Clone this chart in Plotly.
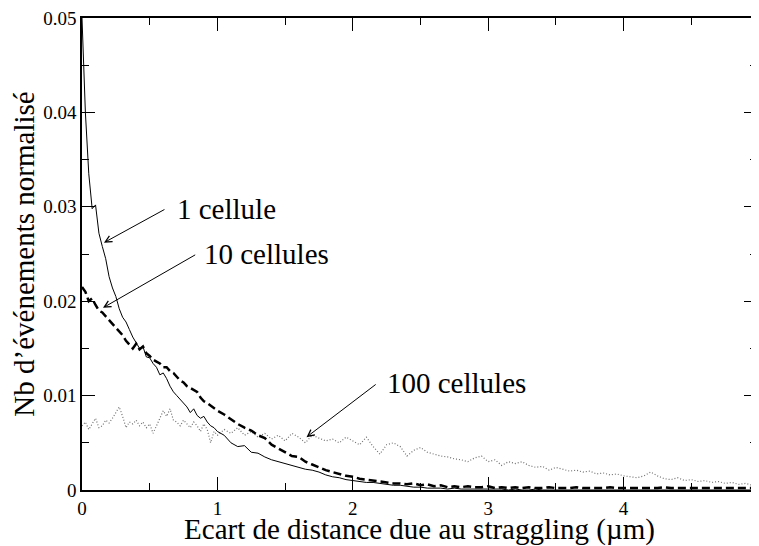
## Straggling distance distribution for 1, 10 and 100 cells

import numpy as np
import plotly.graph_objects as go

# Bin centres (um): fine bins up to 1, then 0.05 steps
x_bins = np.round(np.concatenate([np.arange(0, 1.0001, 0.025), np.arange(1.05, 4.96, 0.05)]), 3)

# Normalised number of events
y_1_cell = [
    0.0500, 0.0400, 0.0335, 0.0298, 0.0302, 0.0272, 0.0258, 0.0245, 0.0226, 0.0214,
    0.0205, 0.0192, 0.0183, 0.0178, 0.0170, 0.0162, 0.0156, 0.0150, 0.0152, 0.0141,
    0.0140, 0.0134, 0.0130, 0.0122, 0.0124, 0.0118, 0.0110, 0.0104, 0.0100, 0.0096,
    0.0092, 0.0088, 0.0082, 0.0086, 0.0079, 0.0076, 0.0078, 0.0072, 0.0068, 0.0066,
    0.0062,
    0.0058, 0.0050, 0.0046, 0.0047, 0.0040, 0.0039, 0.0035, 0.0032, 0.0030, 0.0028,
    0.0026, 0.0024, 0.0022, 0.0021, 0.0019, 0.0016, 0.0014, 0.0013, 0.0011, 0.0010,
    0.0009, 0.0008, 0.0008, 0.0007, 0.0006, 0.0005, 0.0005, 0.0004, 0.0003, 0.0003,
    0.0002, 0.0002, 0.0002, 0.0001, 0.0002, 0.0001, 0.0001, 0.0001, 0.0001, 0.0001,
    0.0001, 0.0001, 0.0000, 0.0001, 0.0000, 0.0000, 0.0001, 0.0000, 0.0000, 0.0000,
    0.0000, 0.0000, 0.0000, 0.0000, 0.0000, 0.0000, 0.0000, 0.0000, 0.0000, 0.0000,
    0.0000, 0.0000, 0.0000, 0.0000, 0.0000, 0.0000, 0.0000, 0.0000, 0.0000, 0.0000,
    0.0000, 0.0000, 0.0000, 0.0000, 0.0000, 0.0000, 0.0000, 0.0000, 0.0000,
]
y_10_cells = [
    0.0215, 0.0210, 0.0200, 0.0203, 0.0196, 0.0190, 0.0188, 0.0184, 0.0180, 0.0176,
    0.0172, 0.0168, 0.0164, 0.0158, 0.0154, 0.0150, 0.0155, 0.0149, 0.0152, 0.0145,
    0.0142, 0.0138, 0.0136, 0.0134, 0.0130, 0.0130, 0.0126, 0.0124, 0.0120, 0.0116,
    0.0114, 0.0110, 0.0108, 0.0106, 0.0104, 0.0098, 0.0094, 0.0092, 0.0089, 0.0086,
    0.0084,
    0.0080, 0.0075, 0.0070, 0.0066, 0.0063, 0.0058, 0.0055, 0.0048, 0.0044, 0.0040,
    0.0036, 0.0035, 0.0030, 0.0027, 0.0024, 0.0021, 0.0019, 0.0017, 0.0015, 0.0014,
    0.0012, 0.0011, 0.0010, 0.0009, 0.0008, 0.0007, 0.0007, 0.0006, 0.0007, 0.0005,
    0.0006, 0.0004, 0.0005, 0.0003, 0.0004, 0.0003, 0.0004, 0.0003, 0.0003, 0.0004,
    0.0002, 0.0003, 0.0002, 0.0003, 0.0002, 0.0003, 0.0002, 0.0002, 0.0003, 0.0002,
    0.0002, 0.0002, 0.0003, 0.0002, 0.0002, 0.0002, 0.0002, 0.0003, 0.0002, 0.0002,
    0.0002, 0.0002, 0.0002, 0.0002, 0.0002, 0.0003, 0.0002, 0.0002, 0.0002, 0.0002,
    0.0002, 0.0002, 0.0002, 0.0002, 0.0002, 0.0002, 0.0002, 0.0002, 0.0002,
]
y_100_cells = [
    0.0068, 0.0072, 0.0064, 0.0070, 0.0076, 0.0066, 0.0068, 0.0074, 0.0071, 0.0076,
    0.0082, 0.0088, 0.0078, 0.0066, 0.0072, 0.0070, 0.0074, 0.0068, 0.0072, 0.0066,
    0.0070, 0.0060, 0.0068, 0.0076, 0.0084, 0.0078, 0.0086, 0.0074, 0.0072, 0.0068,
    0.0074, 0.0070, 0.0066, 0.0072, 0.0068, 0.0062, 0.0070, 0.0064, 0.0050, 0.0062,
    0.0058,
    0.0064, 0.0060, 0.0066, 0.0058, 0.0062, 0.0056, 0.0060, 0.0054, 0.0058, 0.0052,
    0.0060, 0.0056, 0.0050, 0.0058, 0.0055, 0.0052, 0.0054, 0.0050, 0.0056, 0.0052,
    0.0048, 0.0056, 0.0046, 0.0038, 0.0048, 0.0050, 0.0046, 0.0036, 0.0042, 0.0045,
    0.0040, 0.0038, 0.0036, 0.0035, 0.0033, 0.0032, 0.0030, 0.0034, 0.0036, 0.0030,
    0.0032, 0.0026, 0.0030, 0.0028, 0.0030, 0.0026, 0.0024, 0.0025, 0.0021, 0.0024,
    0.0022, 0.0020, 0.0021, 0.0019, 0.0020, 0.0017, 0.0018, 0.0016, 0.0017, 0.0015,
    0.0014, 0.0013, 0.0015, 0.0019, 0.0015, 0.0012, 0.0011, 0.0013, 0.0010, 0.0011,
    0.0009, 0.0010, 0.0008, 0.0009, 0.0007, 0.0008, 0.0006, 0.0007, 0.0005,
]

serif = "Liberation Serif, Times New Roman, serif"

fig = go.Figure()
fig.add_trace(go.Scatter(x=x_bins, y=y_100_cells, mode="lines", name="100 cellules",
                         line=dict(color="#707070", width=1.2, dash="1px,2px")))
fig.add_trace(go.Scatter(x=x_bins, y=y_10_cells, mode="lines", name="10 cellules",
                         line=dict(color="black", width=2.5, dash="8px,4px")))
fig.add_trace(go.Scatter(x=x_bins, y=y_1_cell, mode="lines", name="1 cellule",
                         line=dict(color="black", width=1)))

# Labels with arrows
labels = [
    ("1 cellule", 0.685, 0.0298, 0.62, 0.0298, 0.162, 0.0262),
    ("10 cellules", 0.884, 0.0250, 0.847, 0.0250, 0.155, 0.0193),
    ("100 cellules", 2.24, 0.0113, 2.18, 0.0113, 1.658, 0.0056),
]
for text, tx, ty, ax, ay, hx, hy in labels:
    fig.add_annotation(x=tx, y=ty, text=text, showarrow=False, xanchor="left",
                       font=dict(family=serif, size=29, color="black"))
    fig.add_annotation(x=hx, y=hy, ax=ax, ay=ay, axref="x", ayref="y", text="",
                       showarrow=True, arrowhead=5, arrowsize=1.3, arrowwidth=1,
                       arrowcolor="black")

axis_style = dict(showline=True, linecolor="black", linewidth=1.5, mirror="ticks",
                  ticks="inside", tickcolor="black", ticklen=13, tickwidth=1,
                  showgrid=False, zeroline=False, ticklabeloverflow="allow",
                  tickfont=dict(family=serif, size=19, color="black"))

fig.update_xaxes(range=[0, 4.985], dtick=1,
                 minor=dict(dtick=0.5, ticks="inside", ticklen=7, tickcolor="black"),
                 title=dict(text="Ecart de distance due au straggling (µm)",
                            font=dict(family=serif, size=29, color="black"), standoff=0),
                 **axis_style)
fig.update_yaxes(range=[0, 0.05], dtick=0.01,
                 minor=dict(dtick=0.005, ticks="inside", ticklen=7, tickcolor="black"),
                 title=dict(text="Nb d’événements normalisé",
                            font=dict(family=serif, size=29, color="black"), standoff=0),
                 **axis_style)

# the page puts the figure 8px in from the top-left corner
fig.update_layout(
    width=751, height=538,
    margin=dict(l=74, r=0, t=6, b=56),
    plot_bgcolor="white", paper_bgcolor="white",
    font=dict(family=serif),
    showlegend=False,
)

fig.write_html("out.html")
